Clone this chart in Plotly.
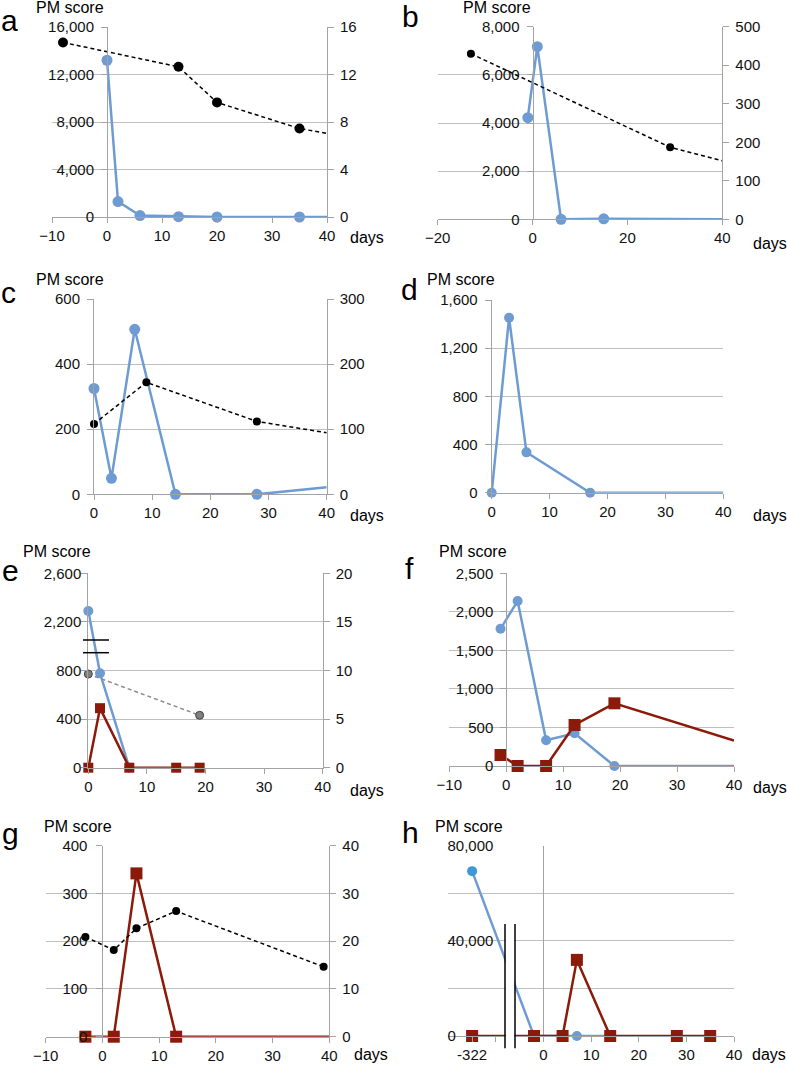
import plotly.graph_objects as go

W, H = 787, 1065

# ---------------- data ----------------
# panel a
a_pm_days = [0, 2, 6, 13, 20, 35, 50]
a_pm = [13200, 1300, 120, 30, 0, 0, 0]
a_sec_days = [-8, 13, 20, 35, 50]
a_sec = [14.7, 12.65, 9.65, 7.45, 6.2]
# panel b
b_pm_days = [-1, 1, 6, 15, 50]
b_pm = [4220, 7170, 0, 20, 0]
b_sec_days = [-13, 29, 50]
b_sec = [430, 187, 120]
# panel c
c_pm_days = [0, 3, 7, 14, 28, 50]
c_pm = [325, 49, 507, 0, 0, 40]
c_sec_days = [0, 9, 28, 50]
c_sec = [108, 172, 112, 80]
# panel d
d_pm_days = [0, 3, 6, 17, 50]
d_pm = [0, 1453, 335, 0, 0]
# panel e (left axis broken between 800 and 2,200)
e_pm_days = [0, 2, 7]
e_pm = [2290, 777, 0]
e_red_days = [0, 2, 7, 15, 19]
e_red = [0, 490, 0, 0, 0]
e_sec_days = [0, 19]
e_sec = [9.64, 5.39]
e_left_ticks = [0, 400, 800, 2200, 2600]
e_left_ticktext = ["0", "400", "800", "2,200", "2,600"]
# panel f
f_pm_days = [-1, 2, 7, 12, 19, 50]
f_pm = [1780, 2140, 335, 425, 0, 0]
f_red_days = [-1, 2, 7, 12, 19, 50]
f_red = [143, 0, 0, 532, 813, 100]
# panel g
g_red_days = [-3, 2, 6, 13, 50]
g_red = [0, 0, 342, 0, 0]
g_sec_days = [-3, 2, 6, 13, 39]
g_sec = [20.9, 18.15, 22.7, 26.3, 14.65]
# panel h (x axis broken: day -322 shown at -15)
h_pm_days = [-322, -2, 7, 14]
h_pm = [69300, 0, 0, 0]
h_red_days = [-322, -2, 4, 7, 14, 28, 35]
h_red = [0, 0, 0, 32000, 0, 0, 0]
h_x_ticks = [-322, -10, 0, 10, 20, 30, 40]
h_x_ticktext = ["-322", "", "0", "10", "20", "30", "40"]
h_y_ticks = [0, 40000, 80000]

letters = ["a", "b", "c", "d", "e", "f", "g", "h"]

# ---------------- styles ----------------
BLUE = "#6E9BD2"
BLUE2 = "#3C9AD6"
RED = "#8B1A0B"
GRID = "#BFBFBF"
AXL = "#A3A3A3"
FONT = "Liberation Sans, Arial, Helvetica, sans-serif"
TICKF = dict(family=FONT, size=15, color="#111111")


def e_map(v):
    return v / 80.0 if v < 1500 else (v - 1000) / 80.0


def h_map(d):
    return -15 if d < -100 else d


def clip(days, vals, xmax):
    xs, ys = [], []
    for i, (d, v) in enumerate(zip(days, vals)):
        if d <= xmax:
            xs.append(d)
            ys.append(v)
        else:
            d0, v0 = days[i - 1], vals[i - 1]
            t = (xmax - d0) / (d - d0)
            xs.append(xmax)
            ys.append(v0 + t * (v - v0))
            break
    return xs, ys


def inrange(days, vals, xmax):
    pts = [(d, v) for d, v in zip(days, vals) if d <= xmax]
    return [p[0] for p in pts], [p[1] for p in pts]


# panel boxes in pixels: x0, x1, ytop, ybottom
panels = [
    dict(box=(52, 327, 27, 217), xr=[-10, 40], xdt=10, yl=[0, 16000], yldt=4000, yr=[0, 16], yrdt=4, free=True, so=4),
    dict(box=(437.7, 722.3, 26.7, 219.3), xr=[-20, 40], xdt=20, yl=[0, 8000], yldt=2000, yr=[0, 500], yrdt=100, free=True, so=4),
    dict(box=(94, 326.7, 299, 494.3), xr=[0, 40], xdt=10, yl=[0, 600], yldt=200, yr=[0, 300], yrdt=100, free=False, so=4),
    dict(box=(491.7, 723.3, 300, 492.7), xr=[0, 40], xdt=10, yl=[0, 1600], yldt=400, yr=None, free=False, so=4),
    dict(box=(88.3, 322.7, 573.3, 767.7), xr=[0, 40], xdt=10, yl=[0, 20], yldt=None, yr=[0, 20], yrdt=5, free=False, so=-3),
    dict(box=(449.3, 734, 573.3, 766), xr=[-10, 40], xdt=10, yl=[0, 2500], yldt=500, yr=None, free=True, so=4),
    dict(box=(45.7, 329.3, 845.7, 1036.7), xr=[-10, 40], xdt=10, yl=[0, 400], yldt=100, yr=[0, 40], yrdt=10, free=True, so=6),
    dict(box=(448.3, 734, 845.7, 1036), xr=[-20, 40], xdt=None, yl=[0, 80000], yldt=None, yr=None, free=False, so=0),
]


def xid(i):
    return "x" if i == 1 else f"x{i}"


def yid(i):
    return "y" if i == 1 else f"y{i}"


def yrid(i):
    return f"y{8 + i}"


def lname(a):
    return a[0] + "axis" + a[1:]


fig = go.Figure()
layout = dict(template="none", width=W, height=H, autosize=False,
              margin=dict(l=0, r=0, t=0, b=0, pad=0),
              paper_bgcolor="white", plot_bgcolor="rgba(0,0,0,0)",
              showlegend=False, font=dict(family=FONT, color="#111111"))

for i, p in enumerate(panels, start=1):
    x0, x1, yt, yb = p["box"]
    xd = [x0 / W, x1 / W]
    yd = [1 - yb / H, 1 - yt / H]
    xa = dict(domain=xd, range=p["xr"], anchor=yid(i), showgrid=False, zeroline=False,
              showline=True, linecolor=AXL, linewidth=1, ticks="outside", ticklen=5,
              tickcolor=AXL, tickwidth=1, tickfont=TICKF, fixedrange=True, automargin=False)
    if p["xdt"]:
        xa.update(tickmode="linear", tick0=0, dtick=p["xdt"])
    ya = dict(domain=yd, range=p["yl"], showgrid=True, gridcolor=GRID, gridwidth=1,
              zeroline=False, showline=True, linecolor=AXL, linewidth=1, ticks="outside",
              ticklen=6, tickcolor=AXL, tickwidth=1, tickfont=TICKF, tickformat=",",
              fixedrange=True, automargin=False, ticklabelstandoff=p["so"])
    if p["yldt"]:
        ya.update(tickmode="linear", tick0=0, dtick=p["yldt"])
    if p["free"]:
        pos = x0 + (0 - p["xr"][0]) / (p["xr"][1] - p["xr"][0]) * (x1 - x0)
        ya.update(anchor="free", position=pos / W)
    else:
        ya.update(anchor=xid(i))
    layout[lname(xid(i))] = xa
    layout[lname(yid(i))] = ya
    if p["yr"]:
        layout[lname(yrid(i))] = dict(overlaying=yid(i), side="right", anchor=xid(i),
                                      range=p["yr"], tickmode="linear", tick0=0, dtick=p["yrdt"],
                                      showgrid=False, zeroline=False, showline=True, linecolor=AXL,
                                      linewidth=1, ticks="outside", ticklen=6, tickcolor=AXL,
                                      tickwidth=1, tickfont=TICKF, fixedrange=True,
                                      automargin=False, ticklabelstandoff=3)

# panel e: broken left axis
layout["yaxis5"].update(tickmode="array", tickvals=[e_map(v) for v in e_left_ticks],
                        ticktext=e_left_ticktext)
# panel h: x axis with break; y labels left-aligned at the left edge of the grid
layout["xaxis8"].update(tickmode="array", tickvals=[h_map(d) for d in h_x_ticks],
                        ticktext=h_x_ticktext, zeroline=True, zerolinecolor=AXL, zerolinewidth=1)
layout["yaxis8"].update(tickmode="array", tickvals=h_y_ticks, showline=False,
                        ticks="", ticklen=0, side="right", anchor="free",
                        position=446.5 / W, ticklabelstandoff=0,
                        minor=dict(tickmode="linear", tick0=0, dtick=20000, showgrid=True,
                                   gridcolor=GRID, gridwidth=1, ticks=""))


def add_series(i, days, vals, color, symbol, msize, width, dash=None, right=False,
               mcolor=None, mline=None):
    xmax = panels[i - 1]["xr"][1]
    yax = yrid(i) if right else yid(i)
    lx, ly = clip(days, vals, xmax)
    fig.add_trace(go.Scatter(x=lx, y=ly, mode="lines", xaxis=xid(i), yaxis=yax,
                             line=dict(color=color, width=width, dash=dash),
                             cliponaxis=False, hoverinfo="skip"))
    mx, my = inrange(days, vals, xmax)
    mk = dict(color=mcolor if mcolor is not None else color, size=msize, symbol=symbol)
    if mline:
        mk["line"] = mline
    else:
        mk["line"] = dict(width=0)
    fig.add_trace(go.Scatter(x=mx, y=my, mode="markers", xaxis=xid(i), yaxis=yax,
                             marker=mk, cliponaxis=False, hoverinfo="skip"))


DASH = "4px,3px"
# a
add_series(1, a_pm_days, a_pm, BLUE, "circle", 11, 2.5)
add_series(1, a_sec_days, a_sec, "black", "circle", 10, 1.5, dash=DASH, right=True)
# b
add_series(2, b_pm_days, b_pm, BLUE, "circle", 11, 2.5)
add_series(2, b_sec_days, b_sec, "black", "circle", 8, 1.5, dash=DASH, right=True)
# c
add_series(3, c_pm_days, c_pm, BLUE, "circle", 11, 2.5)
add_series(3, c_sec_days, c_sec, "black", "circle", 8, 1.5, dash=DASH, right=True)
# d
add_series(4, d_pm_days, d_pm, BLUE, "circle", 10, 2.5)
# e
add_series(5, e_pm_days, [e_map(v) for v in e_pm], BLUE, "circle", 10, 2.5)
add_series(5, e_red_days, [e_map(v) for v in e_red], RED, "square", 10, 2.5)
add_series(5, e_sec_days, e_sec, "#8C8C8C", "circle", 8, 1.5, dash=DASH, right=True,
           mcolor="#7F7F7F", mline=dict(color="#404040", width=1))
# f
add_series(6, f_pm_days, f_pm, BLUE, "circle", 10, 2.5)
add_series(6, f_red_days, f_red, RED, "square", 12, 2.5)
# g
add_series(7, g_red_days, g_red, RED, "square", 12, 2.5)
add_series(7, g_sec_days, g_sec, "black", "circle", 8, 1.5, dash=DASH, right=True)
# h
add_series(8, [h_map(d) for d in h_pm_days], h_pm, BLUE, "circle", 10, 2.5,
           mcolor=[BLUE2] + [BLUE] * (len(h_pm) - 1))
add_series(8, [h_map(d) for d in h_red_days], h_red, RED, "square", 12, 2.5)


def px(x):
    return x / W


def py(y):
    return 1 - y / H


shapes = []
# e: axis-break marks on left axis
for yy in (640, 652.7):
    shapes.append(dict(type="line", xref="paper", yref="paper", x0=px(83), x1=px(109),
                       y0=py(yy), y1=py(yy), line=dict(color="black", width=1.5), layer="above"))
# h: x-axis break
shapes.append(dict(type="rect", xref="paper", yref="paper", x0=px(505.6), x1=px(514.4),
                   y0=py(1042), y1=py(924), fillcolor="white", line=dict(width=0), layer="above"))
for xx in (505, 515):
    shapes.append(dict(type="line", xref="paper", yref="paper", x0=px(xx), x1=px(xx),
                       y0=py(924), y1=py(1048.3), line=dict(color="black", width=1.5), layer="above"))
layout["shapes"] = shapes

ann = []
letter_pos = [(9, 20), (410, 16), (8, 292), (409, 289), (10, 570), (409, 568), (10, 833), (410, 832)]
pm_pos = [(70, 7.5), (497, 7.5), (70, 279), (461, 279), (57, 551), (473, 551), (78, 826), (469, 826)]
days_pos = [(349, 238), (752, 243), (349, 515), (752, 515), (349, 790), (752, 787), (353, 1054), (751, 1054)]
for L, (lx, ly), (mx, my), (dx, dy) in zip(letters, letter_pos, pm_pos, days_pos):
    ann.append(dict(text=L, x=px(lx), y=py(ly), xref="paper", yref="paper", showarrow=False,
                    xanchor="center", yanchor="middle", font=dict(family=FONT, size=30, color="black")))
    ann.append(dict(text="PM score", x=px(mx), y=py(my), xref="paper", yref="paper", showarrow=False,
                    xanchor="center", yanchor="middle", font=dict(family=FONT, size=16, color="black")))
    ann.append(dict(text="days", x=px(dx), y=py(dy), xref="paper", yref="paper", showarrow=False,
                    xanchor="left", yanchor="middle", borderpad=0,
                    font=dict(family=FONT, size=16, color="black")))
layout["annotations"] = ann

fig.update_layout(**layout)
fig.write_html("out.html", config={"displayModeBar": False, "staticPlot": True},
               post_script="document.body.style.margin='0px';document.body.style.overflow='hidden';")
